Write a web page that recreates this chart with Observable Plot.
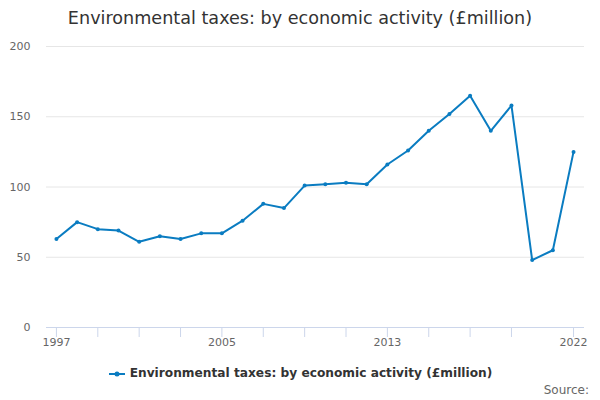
<!DOCTYPE html>
<html>
<head>
<meta charset="utf-8">
<script src="https://cdn.jsdelivr.net/npm/d3@7"></script>
<script src="https://cdn.jsdelivr.net/npm/@observablehq/plot@0.6"></script>
<style>
  html, body { margin: 0; padding: 0; background: #fff; }
  body { width: 600px; height: 400px; overflow: hidden; font-family: "DejaVu Sans", sans-serif; position: relative; }
  #title { position: absolute; top: 0; left: 0; width: 600px; height: 36px; text-align: center; font-size: 17.6px; color: #333; line-height: 36px; }
  #chart { position: absolute; top: 36px; left: 0; }
  #legend { position: absolute; top: 366px; left: 0; width: 600px; text-align: center; font-size: 12.2px; font-weight: bold; color: #333; }
  #legend svg { vertical-align: middle; margin-right: 4px; }
  #source { position: absolute; top: 383px; right: 11px; font-size: 12px; color: #666; }
</style>
</head>
<body>
<div id="title">Environmental taxes: by economic activity (£million)</div>
<div id="chart"></div>
<div id="legend"><svg width="18" height="10"><line x1="1" x2="17" y1="5" y2="5" stroke="#0a7cc1" stroke-width="2"/><circle cx="9" cy="5" r="2.5" fill="#0a7cc1"/></svg><span>Environmental taxes: by economic activity (£million)</span></div>
<div id="source">Source:</div>
<script>
const years = [1997,1998,1999,2000,2001,2002,2003,2004,2005,2006,2007,2008,2009,2010,2011,2012,2013,2014,2015,2016,2017,2018,2019,2020,2021,2022];
const values = [63,75,70,69,61,65,63,67,67,76,88,85,101,102,103,102,116,126,140,152,165,140,158,48,55,125];
const yTicks = [0,50,100,150,200];
const xTickMarks = [1997,1999,2001,2003,2005,2007,2009,2011,2013,2015,2017,2019,2022];
const xTickLabels = [1997,2005,2013,2022];

const data = years.map((y, i) => ({year: y, value: values[i]}));
const color = "#0a7cc1";

const chart = Plot.plot({
  width: 600,
  height: 315,
  marginTop: 10,
  marginBottom: 24,
  marginLeft: 46,
  marginRight: 16,
  style: {fontFamily: "DejaVu Sans, sans-serif", fontSize: "11px", color: "#666", background: "#fff"},
  x: {domain: [1996.52, 2022.53], label: null},
  y: {domain: [0, 200], label: null},
  marks: [
    Plot.gridY(yTicks.filter(d => d > 0), {stroke: "#e6e6e6", strokeOpacity: 1, strokeWidth: 1}),
    Plot.ruleY([0], {stroke: "#ccd6eb", strokeWidth: 1}),
    Plot.axisY(yTicks, {tickSize: 0, tickPadding: 16, fill: "#666", fontSize: 11, label: null}),
    Plot.axisX(xTickMarks, {tickSize: 10, stroke: "#ccd6eb", tickFormat: () => "", label: null}),
    Plot.axisX(xTickLabels, {tickSize: 0, tickPadding: 11, fill: "#666", fontSize: 11, tickFormat: d => String(d), label: null}),
    Plot.line(data, {x: "year", y: "value", stroke: color, strokeWidth: 2}),
    Plot.dot(data, {x: "year", y: "value", fill: color, r: 2})
  ]
});
document.getElementById("chart").appendChild(chart);
</script>
</body>
</html>
